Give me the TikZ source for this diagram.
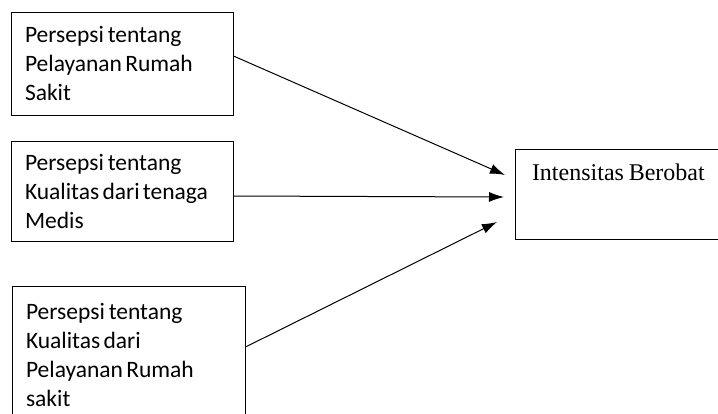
\documentclass[tikz,border=0pt]{standalone}
\usepackage{fontspec}
\setmainfont{Carlito}
\newfontfamily\serifbox{Liberation Serif}
\usetikzlibrary{arrows.meta}

\begin{document}
\begin{tikzpicture}[x=1pt,y=-1pt,
  box/.style={draw,line width=1pt,align=left,inner xsep=14pt,inner ysep=6pt,
    font=\fontsize{23.5}{29}\selectfont,execute at begin node={\spaceskip=0.14em\relax}},
  arr/.style={line width=1pt,-{Latex[length=15pt,width=10pt]}}]
\clip (0,0) rectangle (718,413);
\fill[white] (0,0) rectangle (718,413);
% kotak variabel bebas
\node[box,minimum width=222pt,minimum height=103pt,text width=194pt] (pelayanan) at (122,63.5)
  {Persepsi\,tentang\\Pelayanan Rumah\\Sakit};
\node[box,minimum width=222pt,minimum height=100pt,text width=194pt] (medis) at (122,191)
  {Persepsi\,tentang\\Kualitas dari tenaga\\Medis};
\node[box,minimum width=233pt,minimum height=138pt,text width=205pt] (kualitas) at (128.5,355)
  {Persepsi\,tentang\\Kualitas dari\\Pelayanan Rumah\\sakit};
% variabel terikat
\node[draw,line width=1pt,align=left,inner xsep=17pt,inner ysep=8pt,text width=181pt,
  text height=23pt,text depth=51pt,font=\serifbox\fontsize{24}{28}\selectfont,
  execute at begin node={\spaceskip=0.2em\relax}] (intensitas) at (622.5,194)
  {Intensitas Berobat};
\coordinate (t1) at (505,175);
\coordinate (t2) at (504,197);
\coordinate (t3) at (497,222);
\draw[arr] ([yshift=7.5pt]pelayanan.east)--(t1);
\draw[arr] ([yshift=-5pt]medis.east)--(t2);
\draw[arr] ([yshift=8pt]kualitas.east)--(t3);
\end{tikzpicture}
\end{document}
